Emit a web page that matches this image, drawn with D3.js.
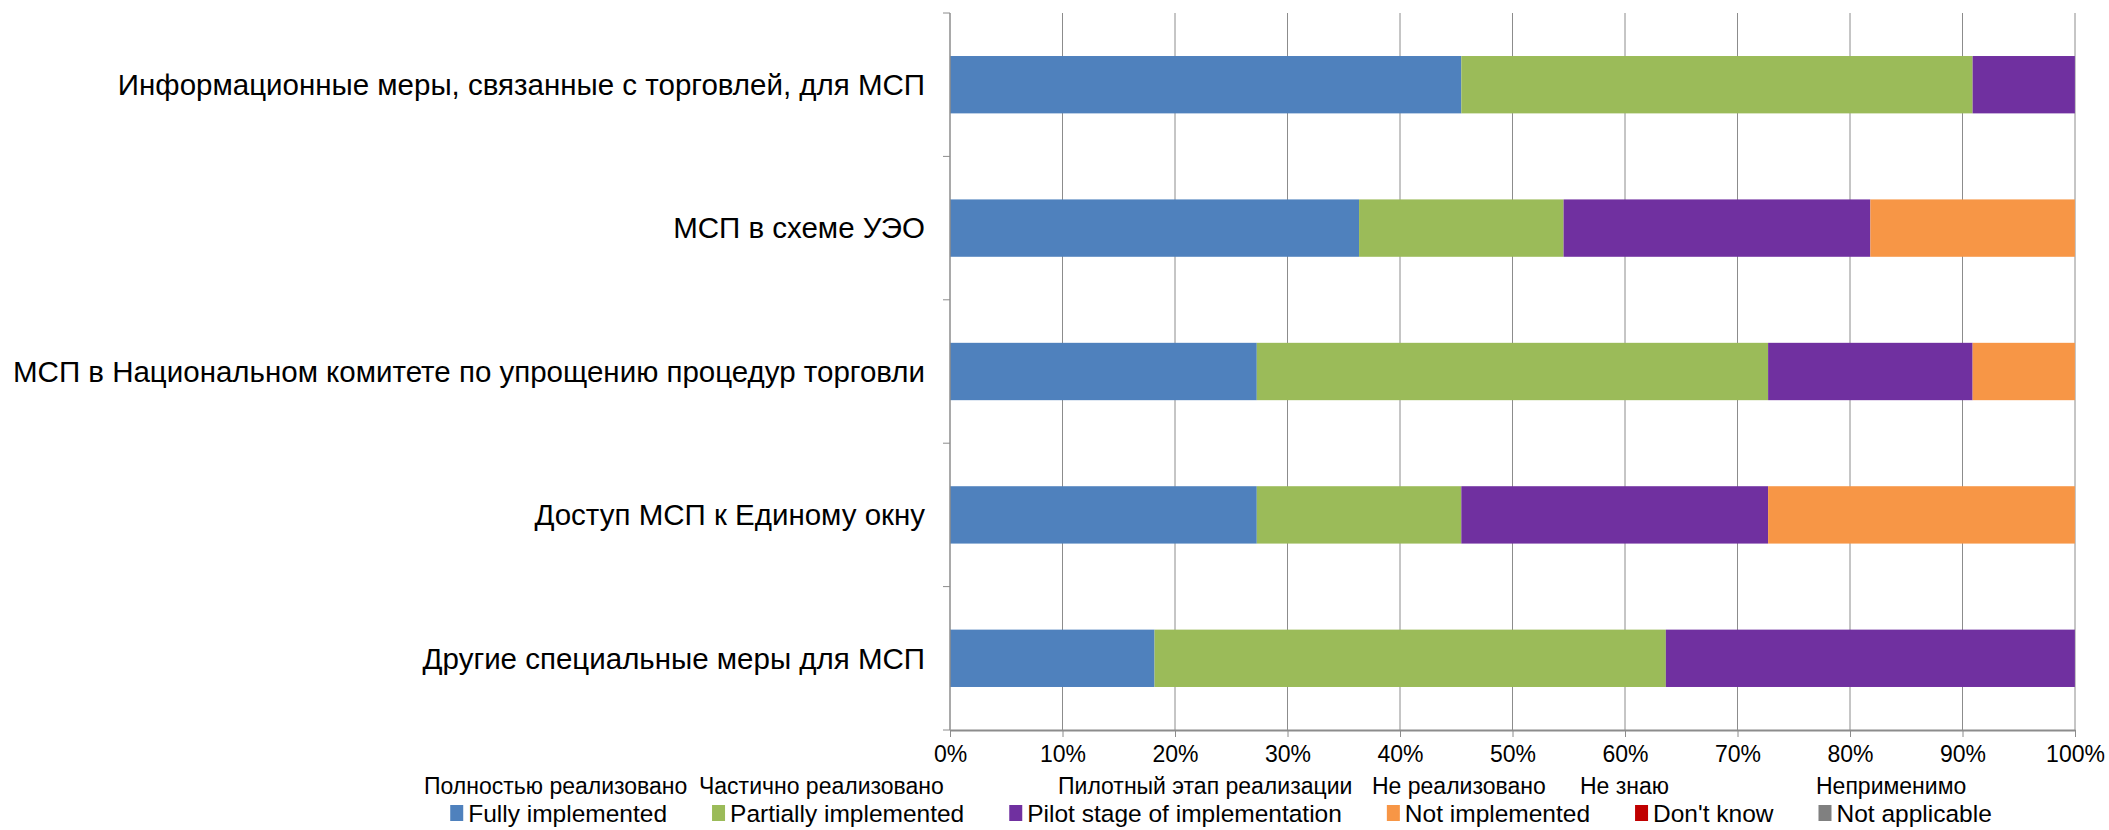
<!DOCTYPE html>
<html lang="ru">
<head>
<meta charset="utf-8">
<title>МСП – меры по упрощению процедур торговли</title>
<script src="https://cdn.jsdelivr.net/npm/d3@7"></script>
<style>
  html, body { margin: 0; padding: 0; background: #fff; }
  svg text { font-family: "Liberation Sans", Arial, sans-serif; fill: #000; }
  .grid line { stroke: #8c8c8c; stroke-width: 1px; }
  .axis path, .axis line { stroke: #8c8c8c; }
</style>
</head>
<body>
<svg id="chart" width="2109" height="830"></svg>
<script>
// ---- data ----
var categories = [
  "Информационные меры, связанные с торговлей, для МСП",
  "МСП в схеме УЭО",
  "МСП в Национальном комитете по упрощению процедур торговли",
  "Доступ МСП к Единому окну",
  "Другие специальные меры для МСП"
];
var seriesEn = ["Fully implemented", "Partially implemented", "Pilot stage of implementation",
                "Not implemented", "Don't know", "Not applicable"];
var seriesRu = ["Полностью реализовано", "Частично реализовано", "Пилотный этап реализации",
                "Не реализовано", "Не знаю", "Неприменимо"];
// shares in %, one value per category
var fully     = [45.45, 36.36, 27.27, 27.27, 18.18];
var partially = [45.45, 18.18, 45.45, 18.18, 45.45];
var pilot     = [ 9.09, 27.27, 18.18, 27.27, 36.36];
var notImpl   = [ 0,    18.18,  9.09, 27.27,  0   ];
var dontKnow  = [ 0,     0,     0,     0,     0   ];
var notAppl   = [ 0,     0,     0,     0,     0   ];
var xTicks = [0, 10, 20, 30, 40, 50, 60, 70, 80, 90, 100];

// ---- style / layout ----
var colors = ["#4f81bd", "#9bbb59", "#7030a0", "#f79646", "#c00000", "#808080"];
var ruLabelX = [424, 699, 1058, 1372, 1580, 1816];

var margin = { top: 13, left: 950, right: 34 },
    width = 2109 - margin.left - margin.right,
    height = 730 - margin.top;

var svg = d3.select("#chart");
var g = svg.append("g").attr("transform", "translate(" + margin.left + "," + margin.top + ")");

var x = d3.scaleLinear().domain([0, 100]).range([0, width]);
var y = d3.scaleBand().domain(categories).range([0, height]).padding(0);
var barH = y.bandwidth() * 0.4;

var rows = categories.map(function(c, i) {
  return { cat: c, fully: fully[i], partially: partially[i], pilot: pilot[i],
           notImpl: notImpl[i], dontKnow: dontKnow[i], notAppl: notAppl[i] };
});
var keys = ["fully", "partially", "pilot", "notImpl", "dontKnow", "notAppl"];
var stacked = d3.stack().keys(keys)(rows);

// vertical gridlines
g.append("g").attr("class", "grid")
  .selectAll("line").data(xTicks.slice(1)).enter().append("line")
    .attr("x1", function(d) { return x(d); }).attr("x2", function(d) { return x(d); })
    .attr("y1", 0).attr("y2", height);

// bars
g.selectAll(".series").data(stacked).enter().append("g")
    .attr("class", "series")
    .attr("fill", function(d, i) { return colors[i]; })
  .selectAll("rect").data(function(d) { return d; }).enter().append("rect")
    .attr("x", function(d) { return x(d[0]); })
    .attr("width", function(d) { return x(d[1]) - x(d[0]); })
    .attr("y", function(d) { return y(d.data.cat) + (y.bandwidth() - barH) / 2; })
    .attr("height", barH);

// left axis: line plus ticks at category boundaries
var bounds = d3.range(categories.length + 1).map(function(i) { return i * y.step(); });
g.append("line").attr("x1", 0).attr("x2", 0).attr("y1", 0).attr("y2", height)
  .attr("stroke", "#8c8c8c").attr("stroke-width", 1.5);
g.selectAll(".ytick").data(bounds).enter().append("line")
  .attr("class", "ytick")
  .attr("x1", -7).attr("x2", 0)
  .attr("y1", function(d) { return d; }).attr("y2", function(d) { return d; })
  .attr("stroke", "#8c8c8c");

g.selectAll(".ylab").data(categories).enter().append("text")
  .attr("class", "ylab")
  .attr("x", -25)
  .attr("y", function(d) { return y(d) + y.bandwidth() / 2; })
  .attr("dy", "0.35em")
  .attr("text-anchor", "end")
  .style("font-size", "29.5px")
  .text(function(d) { return d; });

// bottom axis
var xAxis = g.append("g").attr("class", "axis")
  .attr("transform", "translate(0," + height + ")")
  .call(d3.axisBottom(x).tickValues(xTicks).tickSize(7).tickSizeOuter(0)
    .tickFormat(function(d) { return d + "%"; }));
xAxis.select(".domain").attr("stroke-width", 2);
xAxis.selectAll("text").style("font-size", "23px").attr("dy", "0.95em")
  .style("font-family", "'Liberation Sans', Arial, sans-serif").attr("fill", "#000");

// legend: Russian captions
svg.append("g").selectAll("text").data(seriesRu).enter().append("text")
  .attr("x", function(d, i) { return ruLabelX[i]; })
  .attr("y", 794)
  .style("font-size", "23px")
  .text(function(d) { return d; });

// legend: English items
var legend = svg.append("g");
var items = legend.selectAll("g").data(seriesEn).enter().append("g");
items.append("rect").attr("width", 13).attr("height", 16).attr("y", 805)
  .attr("fill", function(d, i) { return colors[i]; });
items.append("text").attr("x", 18).attr("y", 822)
  .style("font-size", "24.5px")
  .text(function(d) { return d; });
var pos = 0, gap = 45, offs = [];
items.each(function() {
  var w = 18 + d3.select(this).select("text").node().getComputedTextLength();
  offs.push(pos);
  pos += w + gap;
});
var total = pos - gap, start = 1221 - total / 2;
items.attr("transform", function(d, i) { return "translate(" + (start + offs[i]) + ",0)"; });
</script>
</body>
</html>
